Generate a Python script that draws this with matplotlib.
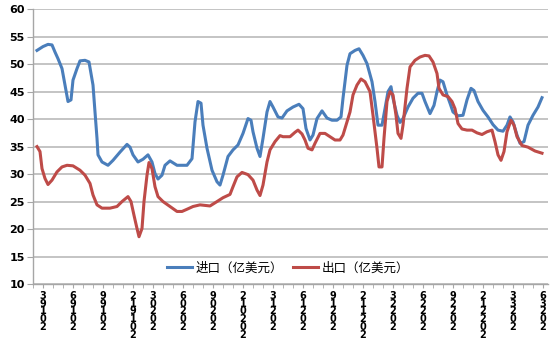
import matplotlib
matplotlib.use("Agg")
import matplotlib.pyplot as plt
from matplotlib.ticker import MultipleLocator, FixedLocator

# time index (arbitrary units along the category axis) and values, 亿美元
t_imp = [4, 10, 15, 19, 22, 25, 29, 32, 35, 38, 40, 44, 47, 52, 56, 60, 62, 64, 65, 69,
         75, 80, 87, 94, 97, 100, 105, 110, 115, 119, 122, 125, 129, 132, 137, 144, 154, 159, 162, 165,
         168, 170, 174, 179, 184, 187, 190, 195, 200, 205, 210, 215, 218, 220, 224, 227, 230, 234, 237, 240,
         245, 249, 254, 260, 266, 270, 273, 277, 280, 284, 289, 294, 299, 304, 308, 310, 314, 317, 322, 326,
         330, 334, 339, 342, 345, 349, 352, 355, 358, 360, 364, 367, 370, 375, 380, 385, 389, 392, 397, 401,
         404, 407, 410, 414, 417, 420, 425, 430, 434, 438, 441, 445, 450, 455, 460, 465, 470, 474, 477, 480,
         484, 487, 491, 495, 500, 505, 509]
imports = [52.5, 53.2, 53.6, 53.5, 52.2, 51.0, 49.2, 46.2, 43.2, 43.5, 47.1, 49.2, 50.6, 50.7, 50.4, 46.2, 41.3, 36.5, 33.5, 32.2,
           31.6, 32.5, 34.0, 35.4, 34.9, 33.5, 32.2, 32.7, 33.5, 32.2, 30.1, 29.1, 29.8, 31.6, 32.4, 31.6, 31.6, 32.8, 39.5, 43.2,
           42.9, 38.9, 34.7, 30.7, 28.6, 28.0, 29.8, 33.2, 34.4, 35.3, 37.4, 40.1, 39.8, 37.7, 34.7, 33.2, 36.5, 41.3, 43.2, 42.2,
           40.4, 40.2, 41.5, 42.2, 42.7, 41.9, 38.3, 36.2, 37.1, 40.1, 41.5, 40.2, 39.8, 39.8, 40.4, 43.8, 49.8, 51.9, 52.5, 52.8,
           51.6, 50.1, 46.8, 43.2, 38.9, 38.9, 41.9, 45.0, 45.9, 43.8, 40.7, 39.4, 40.1, 42.2, 43.8, 44.7, 44.7, 43.2, 41.0, 42.5,
           45.0, 47.1, 46.8, 44.4, 42.9, 41.3, 40.6, 40.7, 43.5, 45.6, 45.2, 43.2, 41.6, 40.4, 39.0, 38.0, 37.8, 38.9, 40.4, 39.5,
           37.1, 35.6, 35.9, 38.9, 40.7, 42.2, 43.9]

t_exp = [4, 7, 9, 12, 15, 19, 24, 29, 34, 40, 47, 52, 57, 60, 64, 69, 77, 84, 89, 95,
         98, 101, 104, 106, 109, 111, 114, 116, 119, 122, 125, 130, 137, 144, 149, 154, 160, 167, 177, 184,
         190, 197, 200, 204, 209, 215, 220, 224, 227, 230, 234, 237, 242, 247, 250, 257, 262, 265, 269, 272,
         275, 279, 282, 287, 292, 297, 302, 307, 310, 314, 317, 320, 324, 328, 332, 337, 340, 344, 346, 349,
         351, 354, 357, 360, 363, 365, 368, 370, 374, 377, 382, 387, 392, 396, 400, 404, 406, 410, 415, 419,
         422, 425, 429, 434, 439, 444, 449, 454, 459, 462, 465, 468, 471, 474, 478, 481, 484, 489, 495, 502,
         509]
exports = [35.0, 34.1, 31.0, 29.2, 28.1, 28.9, 30.4, 31.3, 31.6, 31.5, 30.7, 29.8, 28.3, 26.2, 24.4, 23.8, 23.8, 24.1, 25.0, 25.9,
           25.0, 22.5, 20.1, 18.6, 20.1, 25.0, 29.8, 32.1, 31.0, 27.7, 25.9, 25.0, 24.1, 23.2, 23.2, 23.6, 24.1, 24.4, 24.2, 25.0,
           25.7, 26.3, 27.7, 29.5, 30.3, 29.9, 28.9, 27.1, 26.1, 28.0, 32.2, 34.4, 35.9, 37.0, 36.8, 36.8, 37.6, 38.0, 37.3, 36.2,
           34.7, 34.4, 35.6, 37.4, 37.4, 36.8, 36.2, 36.2, 37.1, 39.5, 41.3, 44.4, 46.2, 47.3, 46.8, 45.0, 40.7, 34.7, 31.3, 31.3,
           36.5, 43.2, 45.0, 44.4, 40.7, 37.4, 36.5, 38.9, 45.6, 49.5, 50.7, 51.3, 51.6, 51.5, 50.4, 48.3, 45.6, 44.4, 44.1, 43.2,
           41.9, 39.2, 38.2, 38.0, 38.0, 37.5, 37.2, 37.7, 38.0, 35.9, 33.5, 32.5, 34.1, 37.7, 39.8, 38.9, 36.8, 35.2, 34.9, 34.2,
           33.8]

# category labels (year, month) and where they sit on the axis
label_years = [2019, 2019, 2019, 2019, 2020, 2020, 2020, 2020, 2021, 2021, 2021, 2021,
               2022, 2022, 2022, 2022, 2023, 2023]
label_months = [3, 6, 9, 12, 3, 6, 9, 12, 3, 6, 9, 12, 3, 6, 9, 12, 3, 6]
label_pos = [10, 40, 70, 100, 120, 150, 180, 210, 240, 270, 300, 330, 360, 390, 420, 450, 480, 510]
# shown as a vertical stack of characters, read bottom-up
tick_labels = ["\n".join(reversed(f"{y}{m}")) for y, m in zip(label_years, label_months)]

plt.rcParams['font.family'] = ['Noto Sans CJK SC', 'DejaVu Sans']

fig = plt.figure(figsize=(5.5, 3.51), dpi=100)
ax = fig.add_axes([33/550, 1 - 284/351, 515/550, 274.8/351])

ax.plot(t_imp, imports, color="#4A7EBB", lw=2.2, solid_joinstyle="round", label="进口（亿美元）")
ax.plot(t_exp, exports, color="#BE4B48", lw=2.2, solid_joinstyle="round", label="出口（亿美元）")

ax.set_xlim(0, 515)
ax.set_ylim(10, 60)
ax.yaxis.set_major_locator(MultipleLocator(5))
ax.grid(axis="y", color="#BFBFBF", lw=1.3)
ax.set_axisbelow(True)

for s in ["top", "right"]:
    ax.spines[s].set_visible(False)
for s in ["left", "bottom"]:
    ax.spines[s].set_color("#A6A6A6")
    ax.spines[s].set_linewidth(1.0)

ax.xaxis.set_major_locator(FixedLocator(label_pos))
ax.xaxis.set_minor_locator(MultipleLocator(10))
ax.set_xticklabels(tick_labels, fontsize=7, fontweight="bold", family="DejaVu Sans",
                   linespacing=0.72, va="top")
ax.tick_params(axis="x", which="both", length=3, color="#A6A6A6", pad=2)
ax.tick_params(axis="y", length=4, color="#A6A6A6", pad=2)
for lab in ax.get_yticklabels():
    lab.set_fontsize(8)
    lab.set_fontweight("bold")
    lab.set_family("DejaVu Sans")

ax.legend(loc="center", bbox_to_anchor=(0.495, 0.058), ncol=2, frameon=False,
          fontsize=9, handlelength=2.0, columnspacing=0.8, handletextpad=0.3)

fig.savefig("out.png", dpi=100)
